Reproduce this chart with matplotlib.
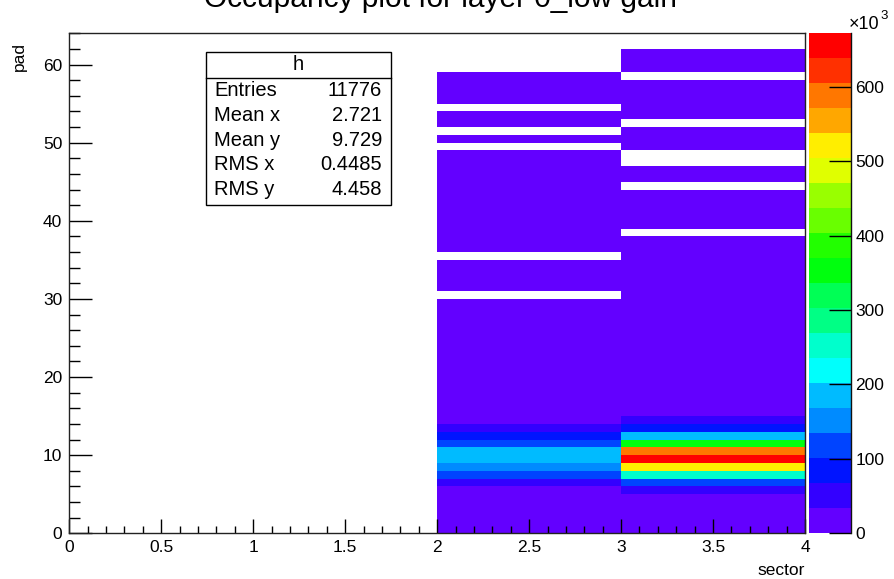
import colorsys
import numpy as np
import matplotlib
matplotlib.use("Agg")
import matplotlib.pyplot as plt
from matplotlib.colors import ListedColormap, BoundaryNorm
from matplotlib.patches import Rectangle
from matplotlib.lines import Line2D
from matplotlib.ticker import MultipleLocator, FixedLocator, FuncFormatter

plt.rcParams['font.family'] = ['Liberation Sans', 'DejaVu Sans']

# ---------------- data ----------------
title = "Occupancy plot for layer 0_low gain"
x_label = "sector"
y_label = "pad"
sector_edges = [0, 1, 2, 3, 4]
n_pads = 64

sector0 = [0] * 64
sector1 = [0] * 64
sector2 = [4200, 4500, 5100, 6800, 9500, 14000, 52000, 118000, 152000, 186000,
           188000, 122000, 86000, 48000, 9000, 5200, 4100, 3600, 3300, 3100,
           2900, 2800, 2700, 2600, 2600, 2500, 2400, 2400, 2300, 2300,
           0, 2200, 2200, 2100, 2100, 0, 2000, 2000, 2000, 2000,
           2000, 1900, 1900, 1900, 1900, 1900, 1900, 1900, 1900, 0,
           1900, 0, 1800, 1800, 0, 1700, 1700, 1700, 1700, 0,
           0, 0, 0, 0]
sector3 = [5000, 5500, 6500, 9000, 16000, 50000, 118000, 252000, 521000, 672000,
           588000, 352000, 186000, 85000, 50000, 12000, 6000, 4500, 3900, 3500,
           3300, 3100, 3000, 2900, 2800, 2700, 2700, 2600, 2600, 2500,
           2500, 2500, 2400, 2400, 2400, 2300, 2300, 2300, 0, 2200,
           2200, 2200, 2200, 2100, 0, 2100, 2100, 0, 0, 2000,
           2000, 2000, 0, 1900, 1900, 1900, 1900, 1900, 0, 1800,
           1800, 1800, 0, 0]

z_max = 672000
n_levels = 20
cbar_ticks = [0, 100000, 200000, 300000, 400000, 500000, 600000]
cbar_ticklabels = ["0", "100", "200", "300", "400", "500", "600"]

stats_name = "h"
stats_labels = ["Entries", "Mean x", "Mean y", "RMS x", "RMS y"]
stats_values = ["11776", "2.721", "9.729", "0.4485", "4.458"]

# ---------------- palette (ROOT "pretty" palette, 20 contours) ----------------
colors = []
for k in range(n_levels):
    idx = int((k + 0.99) * 50 / n_levels)
    hue = 280 - (idx + 1) * 5.6
    colors.append(colorsys.hsv_to_rgb(max(hue, 0) / 360.0, 1, 1))
cmap = ListedColormap(colors)
norm = BoundaryNorm(np.linspace(0, z_max, n_levels + 1), n_levels)

W, H = 894, 579
def fx(x): return x / W
def fy(y): return 1 - y / H

fig = plt.figure(figsize=(W / 100, H / 100), dpi=100)
ax = fig.add_axes([fx(69.3), fy(533.3), fx(805) - fx(69.3), fy(33.3) - fy(533.3)])

Z = np.column_stack([sector0, sector1, sector2, sector3]).astype(float)
Zm = np.ma.masked_where(Z <= 0, Z)
y_edges = np.arange(n_pads + 1)
mesh = ax.pcolormesh(sector_edges, y_edges, Zm, cmap=cmap, norm=norm,
                     edgecolor='face', linewidth=0.0)

ax.set_xlim(0, 4)
ax.set_ylim(0, 64)
ax.xaxis.set_major_locator(MultipleLocator(0.5))
ax.xaxis.set_minor_locator(MultipleLocator(0.1))
ax.yaxis.set_major_locator(MultipleLocator(10))
ax.yaxis.set_minor_locator(MultipleLocator(2))
ax.xaxis.set_major_formatter(FuncFormatter(lambda v, p: f"{v:g}"))
ax.tick_params(axis='x', which='major', direction='in', length=10, width=1,
               labelsize=12.5, pad=5, top=False)
ax.tick_params(axis='x', which='minor', direction='in', length=5, width=1, top=False)
ax.tick_params(axis='y', which='major', direction='in', length=16.5, width=1,
               labelsize=12.5, pad=5, right=False)
ax.tick_params(axis='y', which='minor', direction='in', length=8, width=1, right=False)
for s in ax.spines.values():
    s.set_linewidth(1.0)
    s.set_color('#222222')

# colorbar
cax = fig.add_axes([fx(809), fy(533.3), fx(851) - fx(809), fy(33.3) - fy(533.3)])
cb = fig.colorbar(mesh, cax=cax, orientation='vertical')
cb.outline.set_visible(False)
cax.set_yticks(cbar_ticks)
cax.set_yticklabels(cbar_ticklabels)
cax.yaxis.set_minor_locator(FixedLocator([]))
cax.tick_params(axis='y', which='major', direction='in', length=15.5, width=1,
                labelsize=12.5, pad=3, right=True, left=False)
cax.add_line(Line2D([1, 1], [0, 1], transform=cax.transAxes, color='#111111', lw=1.0,
                    clip_on=False))
fig.text(fx(849), fy(29), "\u00d710", fontsize=13, ha='left', va='baseline')
fig.text(fx(880), fy(19), "3", fontsize=9.5, ha='left', va='baseline')

# labels / title
fig.text(fx(441), fy(7), title, fontsize=21.5, ha='center', va='baseline')
fig.text(fx(805), fy(575), x_label, fontsize=12.5, ha='right', va='baseline')
fig.text(fx(19), fy(42), y_label, fontsize=12.5, ha='center', va='top', rotation=90)

# stats box
bx0, bx1, by0, by1, byh = 205.5, 390.5, 52, 205.5, 78
fig.add_artist(Rectangle((fx(bx0), fy(by1)), fx(bx1) - fx(bx0), fy(by0) - fy(by1),
                         transform=fig.transFigure, facecolor='white',
                         edgecolor='black', linewidth=1.0, zorder=5))
fig.add_artist(Line2D([fx(bx0), fx(bx1)], [fy(byh), fy(byh)], transform=fig.transFigure,
                      color='black', lw=1.0, zorder=6))
fig.text(fx((bx0 + bx1) / 2), fy(65), stats_name, fontsize=14.5, ha='center',
         va='center', zorder=7)
row_y = [90.5, 115.3, 140.0, 165.0, 189.5]
for lab, val, yy in zip(stats_labels, stats_values, row_y):
    fig.text(fx(214), fy(yy), lab, fontsize=14.5, ha='left', va='center', zorder=7)
    fig.text(fx(382), fy(yy), val, fontsize=14.5, ha='right', va='center', zorder=7)

fig.savefig("out.png", dpi=100)
